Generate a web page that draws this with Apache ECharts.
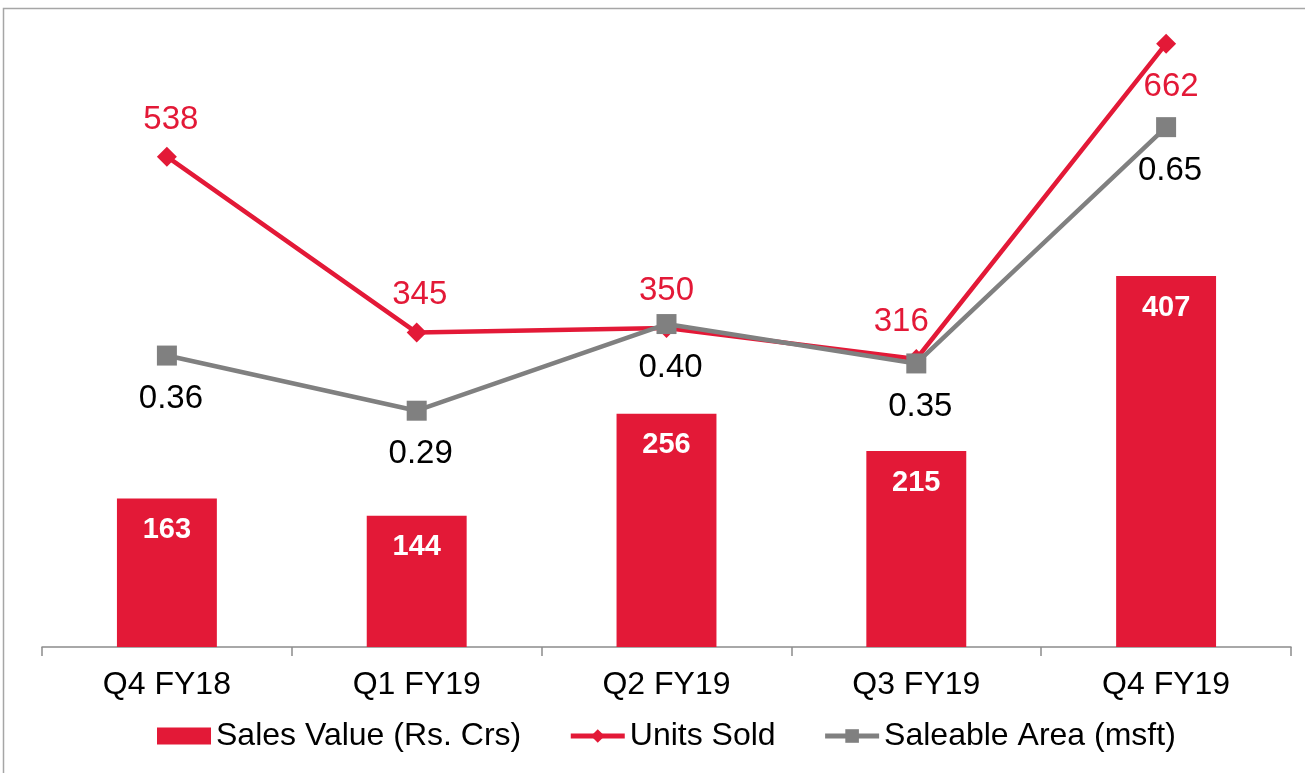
<!DOCTYPE html>
<html>
<head>
<meta charset="utf-8">
<script src="https://cdn.jsdelivr.net/npm/echarts@6/dist/echarts.min.js"></script>
<style>
html,body{margin:0;padding:0;background:#fff;}
#c{width:1305px;height:773px;}
</style>
</head>
<body>
<div id="c"></div>
<script>
const categories = ['Q4 FY18', 'Q1 FY19', 'Q2 FY19', 'Q3 FY19', 'Q4 FY19'];
const salesValue = [163, 144, 256, 215, 407];
const unitsSold = [538, 345, 350, 316, 662];
const saleableArea = [0.36, 0.29, 0.40, 0.35, 0.65];

const RED = '#E31937';
const GRAY = '#808080';
const FONT = '"Liberation Sans", Arial, sans-serif';

const unitsLabelPos = ['top', 'top', 'top', 'top', 'bottom'];
const unitsLabelOffset = [[4, 2], [3, 1], [0, 1], [-15, 1], [5, 5]];

const chart = echarts.init(document.getElementById('c'), null, {renderer: 'canvas'});
chart.setOption({
  animation: false,
  backgroundColor: '#fff',
  textStyle: {fontFamily: FONT},
  graphic: [{
    type: 'rect', silent: true, z: -1,
    shape: {x: 3.5, y: 8.5, width: 1400, height: 900},
    style: {fill: 'none', stroke: '#a6a6a6', lineWidth: 1.5}
  }],
  grid: {left: 42, right: 14, top: 9, bottom: 126, containLabel: false},
  legend: {
    bottom: 16,
    left: 152,
    itemWidth: 54,
    itemHeight: 17,
    itemGap: 47,
    lineStyle: {width: 5},
    textStyle: {fontSize: 32, color: '#000', fontFamily: FONT},
    data: [{name: 'Sales Value (Rs. Crs)', icon: 'rect'}, 'Units Sold', 'Saleable Area (msft)']
  },
  xAxis: {
    type: 'category',
    data: categories,
    boundaryGap: true,
    axisLine: {lineStyle: {color: '#8c8c8c', width: 1.5}},
    axisTick: {show: true, length: 9, lineStyle: {color: '#8c8c8c', width: 1.5}},
    axisLabel: {color: '#000', fontSize: 32, margin: 22, fontFamily: FONT}
  },
  yAxis: [
    {type: 'value', min: 0, max: 700, show: false, splitLine: {show: false}},
    {type: 'value', min: -0.01, max: 0.8, show: false, splitLine: {show: false}}
  ],
  series: [
    {
      name: 'Sales Value (Rs. Crs)',
      type: 'bar',
      yAxisIndex: 0,
      barWidth: '40%',
      data: salesValue,
      itemStyle: {color: RED},
      label: {show: true, position: 'insideTop', distance: 17, color: '#fff', fontWeight: 'bold', fontSize: 29, fontFamily: FONT}
    },
    {
      name: 'Units Sold',
      type: 'line',
      yAxisIndex: 0,
      data: unitsSold.map((v, i) => ({
        value: v,
        label: {position: unitsLabelPos[i], offset: unitsLabelOffset[i]}
      })),
      symbol: 'diamond',
      symbolSize: 20,
      lineStyle: {color: RED, width: 4.5},
      itemStyle: {color: RED},
      label: {show: true, color: RED, fontSize: 33, distance: 12, fontFamily: FONT},
      z: 3
    },
    {
      name: 'Saleable Area (msft)',
      type: 'line',
      yAxisIndex: 1,
      data: saleableArea,
      symbol: 'rect',
      symbolSize: 20,
      lineStyle: {color: GRAY, width: 4.5},
      itemStyle: {color: GRAY},
      label: {show: true, position: 'bottom', offset: [4, 0], distance: 17, color: '#000', fontSize: 33, fontFamily: FONT,
        formatter: p => p.value.toFixed(2)},
      z: 4
    }
  ]
});
</script>
</body>
</html>
